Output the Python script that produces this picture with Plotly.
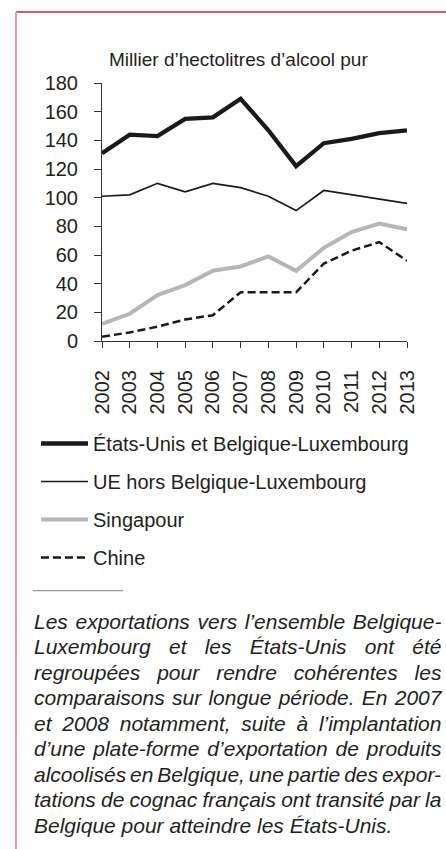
import plotly.graph_objects as go

# ---------------- data ----------------
years = [2002, 2003, 2004, 2005, 2006, 2007, 2008, 2009, 2010, 2011, 2012, 2013]
year_labels = [str(y) for y in years]
us_belux = [131, 144, 143, 155, 156, 169, 147, 122, 138, 141, 145, 147]
ue_hors_belux = [101, 102, 110, 104, 110, 107, 101, 91, 105, 102, 99, 96]
singapour = [12, 19, 32, 39, 49, 52, 59, 49, 65, 76, 82, 78]
chine = [3, 6, 10, 15, 18, 34, 34, 34, 54, 63, 69, 56]
series_names = ["États-Unis et Belgique-Luxembourg", "UE hors Belgique-Luxembourg",
                "Singapour", "Chine"]
y_ticks = [0, 20, 40, 60, 80, 100, 120, 140, 160, 180]
unit_label = "Millier d’hectolitres d’alcool pur"
note_lines = [
    "Les exportations vers l’ensemble Belgique-",
    "Luxembourg et les États-Unis ont été",
    "regroupées pour rendre cohérentes les",
    "comparaisons sur longue période. En 2007",
    "et 2008 notamment, suite à l’implantation",
    "d’une plate-forme d’exportation de produits",
    "alcoolisés en Belgique, une partie des expor-",
    "tations de cognac français ont transité par la",
    "Belgique pour atteindre les États-Unis.",
]

# ---------------- layout helpers ----------------
W, H = 446, 849
L, R, T, B = 102, 407, 83, 341
FONT = "Liberation Sans, Arial, Helvetica, sans-serif"
TXT = "#231f20"


def px2x(px):
    return (px - L) / (R - L)


def py2y(py):
    return (B - py) / (B - T)


# Arial advance widths (per 1000 em) for justification of the note
AW = {c: 556 for c in "abdeghnopqué0123456789àÉ"}
AW.update({"c": 500, "f": 278, "i": 222, "j": 222, "k": 500, "l": 222, "m": 833,
           "r": 333, "s": 500, "t": 278, "v": 500, "w": 722, "x": 500, "y": 500,
           "z": 500, "ç": 500, "É": 667, "B": 667, "E": 667, "L": 556, "U": 722,
           ".": 278, ",": 278, "-": 333, "’": 222, " ": 278})


def text_w(s, size):
    return sum(AW.get(c, 556) for c in s) * size / 1000.0


fig = go.Figure()

styles = [
    dict(color="#1a1a1a", width=4.3),
    dict(color="#1a1a1a", width=1.7),
    dict(color="#b6b6ba", width=4.0),
    dict(color="#1a1a1a", width=2.5, dash="8px,4px"),
]
for name, vals, st in zip(series_names, [us_belux, ue_hors_belux, singapour, chine], styles):
    fig.add_trace(go.Scatter(x=years, y=vals, name=name, mode="lines",
                             line=st, legendgroup=name))

annotations = [
    dict(text=unit_label, x=px2x(238.7), y=py2y(59.1), xref="paper", yref="paper",
         xanchor="center", yanchor="middle", showarrow=False, borderpad=0,
         font=dict(family=FONT, size=19, color=TXT)),
]

NOTE_FS = 21
left_px, right_px = 33.3, 440.7
base0, step = 628.3, 25.5
for i, line in enumerate(note_lines):
    base = base0 + i * step
    cy = base - 0.3465 * NOTE_FS
    txt = line
    if i < len(note_lines) - 1:
        nsp = line.count(" ")
        extra = (right_px - left_px - text_w(line, NOTE_FS)) / max(nsp, 1)
        txt = '<span style="word-spacing:%.2fpx">%s</span>' % (extra, line)
    annotations.append(dict(text=txt, x=px2x(left_px), y=py2y(cy), xref="paper",
                            yref="paper", xanchor="left", yanchor="middle",
                            showarrow=False, borderpad=0, align="left",
                            font=dict(family=FONT, size=NOTE_FS, color=TXT,
                                      style="italic")))

shapes = [
    # red frame
    dict(type="line", xref="paper", yref="paper", x0=px2x(16), x1=px2x(446),
         y0=py2y(12), y1=py2y(12), line=dict(color="#cc2229", width=1.5)),
    dict(type="line", xref="paper", yref="paper", x0=px2x(16), x1=px2x(16),
         y0=py2y(12), y1=py2y(849), line=dict(color="#e4a0a0", width=2)),
    # note separator
    dict(type="line", xref="paper", yref="paper", x0=px2x(33), x1=px2x(123),
         y0=py2y(590.7), y1=py2y(590.7), line=dict(color="#808080", width=1)),
]

fig.update_layout(
    width=W, height=H, autosize=False,
    margin=dict(l=L, r=W - R, t=T, b=H - B, pad=0),
    paper_bgcolor="white", plot_bgcolor="white",
    font=dict(family=FONT, size=20, color=TXT),
    showlegend=True,
    legend=dict(x=px2x(36), y=py2y(424), xanchor="left", yanchor="top",
                traceorder="grouped", tracegroupgap=9, itemwidth=47,
                font=dict(family=FONT, size=20, color=TXT),
                bgcolor="rgba(0,0,0,0)", borderwidth=0),
    xaxis=dict(range=[2002, 2013], tickvals=years, ticktext=year_labels,
               tickangle=-90, ticks="outside", ticklen=6, tickwidth=1,
               tickcolor="#333", showline=True, linecolor="#333", linewidth=1,
               showgrid=False, zeroline=False, ticklabelstandoff=14,
               tickfont=dict(family=FONT, size=20, color=TXT)),
    yaxis=dict(range=[0, 180], tickvals=y_ticks, ticks="outside", ticklen=7,
               tickwidth=1, tickcolor="#333", showline=True, linecolor="#333",
               linewidth=1, showgrid=False, zeroline=False, ticklabelstandoff=12,
               tickfont=dict(family=FONT, size=20, color=TXT)),
    annotations=annotations,
    shapes=shapes,
)

fig.write_html("out.html", config={"displayModeBar": False},
               post_script="document.body.style.margin='0';document.body.style.padding='0';")
